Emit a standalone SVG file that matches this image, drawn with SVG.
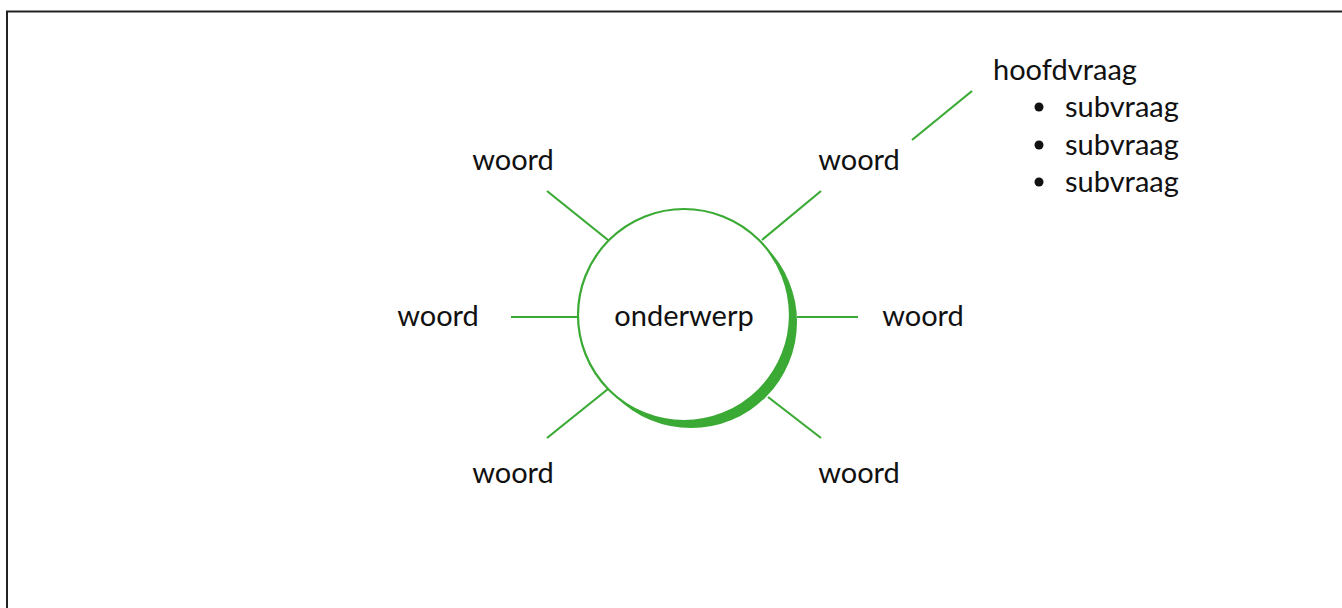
<svg xmlns="http://www.w3.org/2000/svg" width="1342" height="608" viewBox="0 0 1342 608">
<style>
.t{font-family:Lato,"Noto Sans",sans-serif;font-size:29px;fill:#111;}
.m{text-anchor:middle;}
.c line{stroke:#3aaa35;stroke-width:2.2;}
</style>
<rect x="0" y="0" width="1342" height="608" fill="#fff"/>
<rect x="7" y="11.5" width="1400" height="700" fill="none" stroke="#222" stroke-width="2"/>
<g id="connectors" class="c">
<line x1="547" y1="191" x2="608" y2="240"/>
<line x1="762" y1="240" x2="821" y2="191"/>
<line x1="511" y1="317" x2="578" y2="317"/>
<line x1="797" y1="317" x2="858" y2="317"/>
<line x1="608" y1="389" x2="547" y2="438"/>
<line x1="768" y1="397" x2="821" y2="438"/>
<line x1="912" y1="140" x2="972" y2="91"/>
</g>
<g id="onderwerp">
<circle cx="691" cy="322" r="106" fill="#3aaa35"/>
<circle cx="684" cy="315" r="106" fill="#fff" stroke="#3aaa35" stroke-width="2.2"/>
<text class="t m" x="684" y="326">onderwerp</text>
</g>
<g id="woord-tl"><text class="t m" x="513" y="170">woord</text></g>
<g id="woord-tr"><text class="t m" x="859" y="170">woord</text></g>
<g id="woord-l"><text class="t m" x="438" y="326">woord</text></g>
<g id="woord-r"><text class="t m" x="923" y="326">woord</text></g>
<g id="woord-bl"><text class="t m" x="513" y="483">woord</text></g>
<g id="woord-br"><text class="t m" x="859" y="483">woord</text></g>
<g id="hoofdvraag">
<text class="t" x="993" y="80">hoofdvraag</text>
<circle cx="1039" cy="107" r="4.5" fill="#111"/>
<circle cx="1039" cy="145" r="4.5" fill="#111"/>
<circle cx="1039" cy="182" r="4.5" fill="#111"/>
<text class="t" x="1065" y="117">subvraag</text>
<text class="t" x="1065" y="155">subvraag</text>
<text class="t" x="1065" y="192">subvraag</text>
</g>
</svg>
